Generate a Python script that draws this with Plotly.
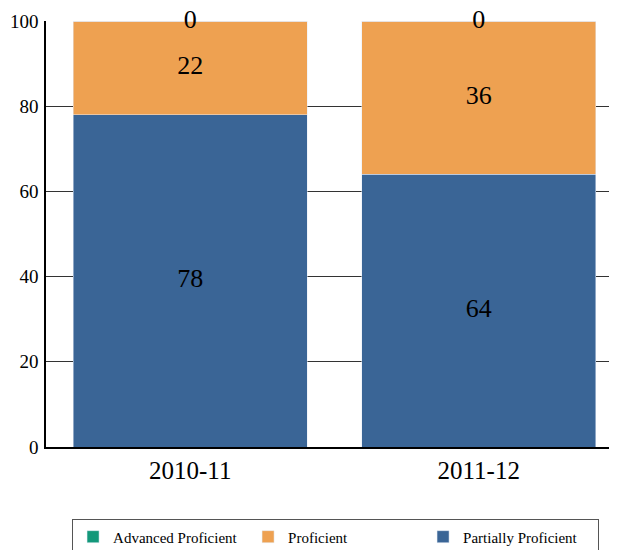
import plotly.graph_objects as go

years = ["2010-11", "2011-12"]
partially = [78, 64]
proficient = [22, 36]
advanced = [0, 0]

colors = {
    "Advanced Proficient": "#13987A",
    "Proficient": "#EEA151",
    "Partially Proficient": "#3A6596",
}
serif = "Liberation Serif, Times New Roman, serif"

fig = go.Figure()

# legend order: Advanced, Proficient, Partially; stacking bottom-up: Partially, Proficient, Advanced
fig.add_trace(go.Bar(x=years, y=partially, name="Partially Proficient",
                     marker_color=colors["Partially Proficient"], legendrank=3))
fig.add_trace(go.Bar(x=years, y=proficient, name="Proficient",
                     marker_color=colors["Proficient"], legendrank=2))
fig.add_trace(go.Bar(x=years, y=advanced, name="Advanced Proficient",
                     marker_color=colors["Advanced Proficient"], legendrank=1))

# value labels centred in each segment
base = [0] * len(years)
for series in [partially, proficient, advanced]:
    mids = [b + v / 2 for b, v in zip(base, series)]
    fig.add_trace(go.Scatter(
        x=years, y=mids, mode="text", text=[str(v) for v in series],
        textfont=dict(family=serif, size=26, color="black"),
        showlegend=False, hoverinfo="skip", cliponaxis=False,
    ))
    base = [b + v for b, v in zip(base, series)]

fig.update_layout(
    barmode="stack",
    bargap=0.19,
    width=617,
    height=550,
    margin=dict(l=38, r=0, t=13, b=111, autoexpand=False),
    plot_bgcolor="white",
    paper_bgcolor="white",
    font=dict(family=serif, color="black"),
    xaxis=dict(
        type="category",
        range=[-0.5, 1.507],
        showline=True, linecolor="black", linewidth=2,
        tickfont=dict(size=25), showgrid=False,
    ),
    yaxis=dict(
        range=[0, 100], dtick=20,
        showline=True, linecolor="black", linewidth=1.5,
        showgrid=True, gridcolor="#333333", gridwidth=1,
        tickfont=dict(size=19), zeroline=False,
        ticks="outside", ticklen=2, tickcolor="white",
    ),
    legend=dict(
        orientation="h",
        x=0.045, xanchor="left",
        y=-0.17, yanchor="top",
        bordercolor="#555555", borderwidth=1,
        font=dict(family=serif, size=15),
        entrywidth=130, entrywidthmode="pixels",
        traceorder="normal",
    ),
)

fig.write_html("out.html")
